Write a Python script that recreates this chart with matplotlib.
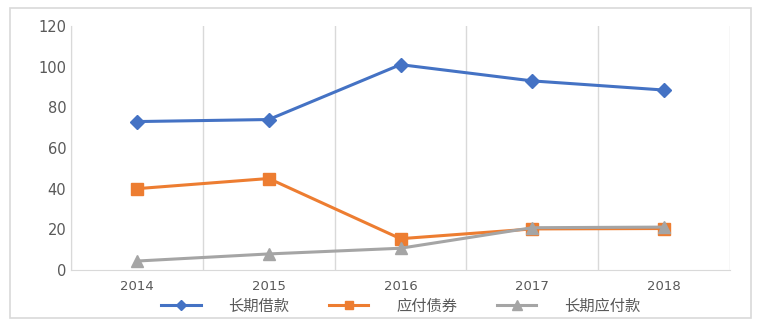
import matplotlib
matplotlib.use("Agg")
import matplotlib.pyplot as plt
from matplotlib.patches import Rectangle

plt.rcParams["font.family"] = ["Noto Sans CJK SC", "DejaVu Sans"]

years = ["2014", "2015", "2016", "2017", "2018"]
long_loans = [73, 74, 101, 93, 88.5]       # 长期借款
bonds_payable = [40, 45, 15.4, 20.2, 20.4]  # 应付债券
long_payables = [4.4, 7.9, 10.7, 20.8, 21.1]  # 长期应付款

fig = plt.figure(figsize=(7.61, 3.25), dpi=100)
ax = fig.add_axes([71 / 761, 1 - 270 / 325, 659 / 761, 244 / 325])

# outer chart frame
fig.patches.append(Rectangle((10 / 761, 7 / 325), 741 / 761, 310 / 325,
                             transform=fig.transFigure, fill=False,
                             edgecolor="#d9d9d9", lw=1.2))

x = list(range(len(years)))
ax.plot(x, long_loans, color="#4472c4", lw=2.2, marker="D", ms=7, label="长期借款")
ax.plot(x, bonds_payable, color="#ed7d31", lw=2.2, marker="s", ms=8, label="应付债券")
ax.plot(x, long_payables, color="#a5a5a5", lw=2.2, marker="^", ms=9, label="长期应付款")

ax.set_xlim(-0.5, 4.5)
ax.set_ylim(0, 120)
ax.set_yticks(range(0, 121, 20))
ax.set_xticks(x)
ax.set_xticklabels(years)
for xv in [-0.5, 0.5, 1.5, 2.5, 3.5, 4.5]:
    ax.axvline(xv, color="#d9d9d9", lw=1, zorder=0)

for s in ["top", "right"]:
    ax.spines[s].set_visible(False)
for s in ["left", "bottom"]:
    ax.spines[s].set_color("#d9d9d9")
ax.tick_params(length=0, colors="#595959", labelsize=10.5)
ax.tick_params(axis="x", pad=7)
for lbl in ax.get_xticklabels():
    lbl.set_fontfamily("DejaVu Sans")
    lbl.set_fontsize(9.5)
for lbl in ax.get_yticklabels():
    lbl.set_fontfamily("DejaVu Sans")

ax.legend(loc="center", bbox_to_anchor=(0.5, -0.148), ncol=3, frameon=False,
          fontsize=11, labelcolor="#595959", handlelength=2.6, columnspacing=2.6,
          handletextpad=1.8, markerscale=0.8, borderpad=0.2)

fig.savefig("out.png", dpi=100)
